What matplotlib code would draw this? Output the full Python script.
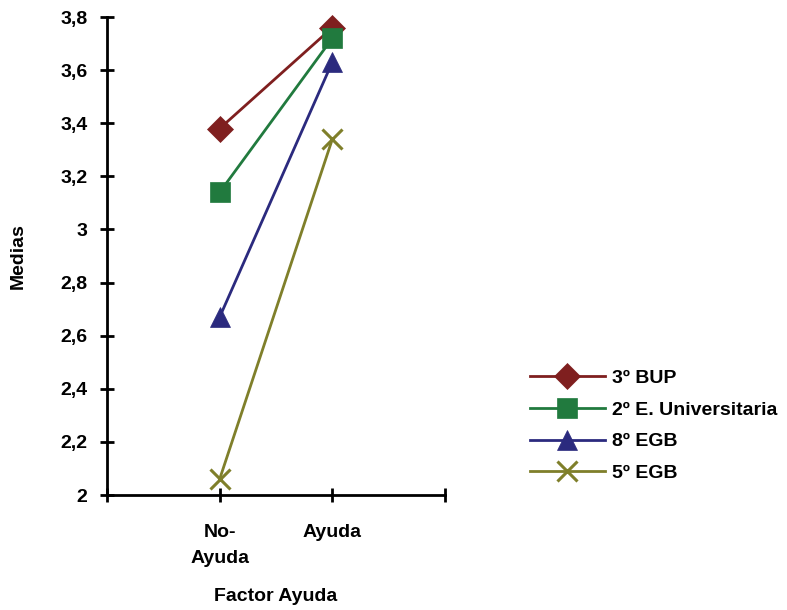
import matplotlib
matplotlib.use("Agg")
import matplotlib.pyplot as plt

categories = ["No-\nAyuda", "Ayuda"]
series_names = ["3º BUP", "2º E. Universitaria", "8º EGB", "5º EGB"]
bup3 = [3.38, 3.76]
univ2 = [3.14, 3.72]
egb8 = [2.67, 3.63]
egb5 = [2.06, 3.34]
yticks = [2, 2.2, 2.4, 2.6, 2.8, 3, 3.2, 3.4, 3.6, 3.8]
ytick_labels = ["2", "2,2", "2,4", "2,6", "2,8", "3", "3,2", "3,4", "3,6", "3,8"]

plt.rcParams['font.family'] = ['Liberation Sans', 'DejaVu Sans']
plt.rcParams['font.weight'] = 'bold'

FS = 14
fig = plt.figure(figsize=(7.87, 6.10), dpi=100)
ax = fig.add_axes([107/787, 1-495/610, (445-107)/787, (495-17)/610])

x = [0, 1]
styles = [
    (bup3, "#7F1F1F", "D", 13, 0),
    (univ2, "#217A3E", "s", 14, 0),
    (egb8, "#2B2A7E", "^", 15, 0),
    (egb5, "#7F7F2A", "x", 15, 2.2),
]
handles = []
for (vals, col, mk, ms, mew), name in zip(styles, series_names):
    if mk == "x":
        l, = ax.plot(x, vals, color=col, lw=2, marker=mk, ms=ms, mew=mew, label=name, clip_on=False)
    else:
        l, = ax.plot(x, vals, color=col, lw=2, marker=mk, ms=ms, mec=col, mfc=col, mew=0.5,
                     label=name, clip_on=False)
    handles.append(l)

ax.set_xlim(-1, 2)
ax.set_ylim(2, 3.8)
ax.set_yticks(yticks)
ax.set_yticklabels(ytick_labels, fontsize=FS, fontweight='bold')
ax.set_xticks([-1, 0, 1, 2])
ax.set_xticklabels(["", categories[0], categories[1], ""], fontsize=FS, fontweight='bold', va='top')
ax.tick_params(axis='both', direction='inout', length=10, width=2)
ax.tick_params(axis='x', pad=16)
ax.tick_params(axis='y', pad=9)
for lbl in ax.get_xticklabels():
    lbl.set_linespacing(1.7)
for s in ['top', 'right']:
    ax.spines[s].set_visible(False)
for s in ['left', 'bottom']:
    ax.spines[s].set_linewidth(2)
ax.set_ylabel("Medias", fontsize=FS, fontweight='bold', labelpad=24)
ax.set_xlabel("Factor Ayuda", fontsize=FS, fontweight='bold', labelpad=15)

fig.legend(handles=handles, loc='upper left', bbox_to_anchor=(512/787, 1-352/610),
           frameon=False, prop={'weight': 'bold', 'size': FS},
           handlelength=3.9, labelspacing=0.72, handletextpad=0.35)

fig.savefig("out.png", dpi=100)
